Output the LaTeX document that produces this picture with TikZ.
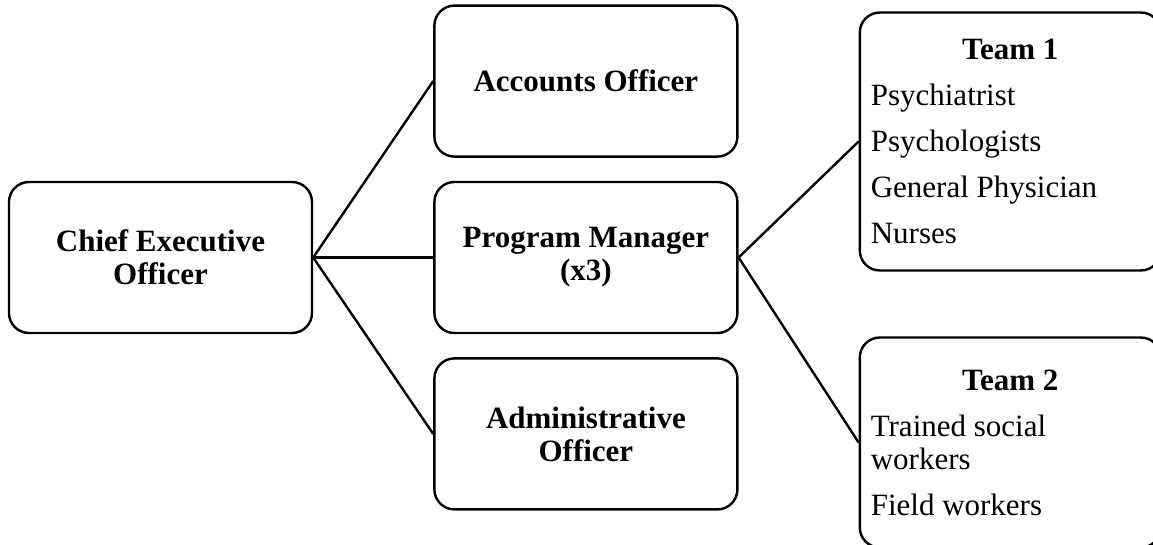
\documentclass[tikz,border=0pt]{standalone}
\usepackage{fontspec}
\setmainfont{Liberation Serif}
\usetikzlibrary{positioning}

% centred heading of a team box, with the font's own word spaces
\newcommand\teamhead[1]{\spaceskip=0pt\xspaceskip=0pt\hfill\textbf{#1}\hfill\null}

\begin{document}
\begin{tikzpicture}[
      x=1pt, y=1pt, line width=2.4pt,
      post/.style={draw, rounded corners=20pt, minimum width=303pt, minimum height=151pt,
        align=center, font=\fontsize{31}{33}\selectfont\bfseries},
      team/.style={draw, rounded corners=20pt, text width=279pt, inner sep=11pt,
        align=left, font=\fontsize{31}{33}\selectfont},
      link/.style={draw}
      ]

      % page size, the team boxes run off the right edge
      \path[use as bounding box] (0,0) rectangle (1153,-544);
      \clip (0,0) rectangle (1153,-544);

      \path node[post] (ceo) at (160.5,-257.5) {Chief Executive\\Officer};

      \path node[post, right=120pt of ceo] (pm) {Program Manager\\(x3)};
      \path node[post, above=23pt of pm] (accounts) {Accounts Officer};
      \path node[post, below=23pt of pm] (admin) {Administrative\\Officer};
      \path[link] (ceo.east) -- (accounts.west);
      \path[link] (ceo.east) -- (pm.west);
      \path[link] (ceo.east) -- (admin.west);

      \path node[team, minimum height=258pt, right=120pt of pm, yshift=116pt] (team1)
        {\teamhead{Team 1}\\[13pt]
         Psychiatrist\\[13pt]
         Psychologists\\[13pt]
         General Physician\\[13pt]
         Nurses};
      \path node[team, minimum height=210pt, right=120pt of pm, yshift=-185pt] (team2)
        {\teamhead{Team 2}\\[13pt]
         Trained social\\workers\\[13pt]
         Field workers};
      \path[link] (pm.east) -- (team1.west);
      \path[link] (pm.east) -- (team2.west);
    \end{tikzpicture}
\end{document}
